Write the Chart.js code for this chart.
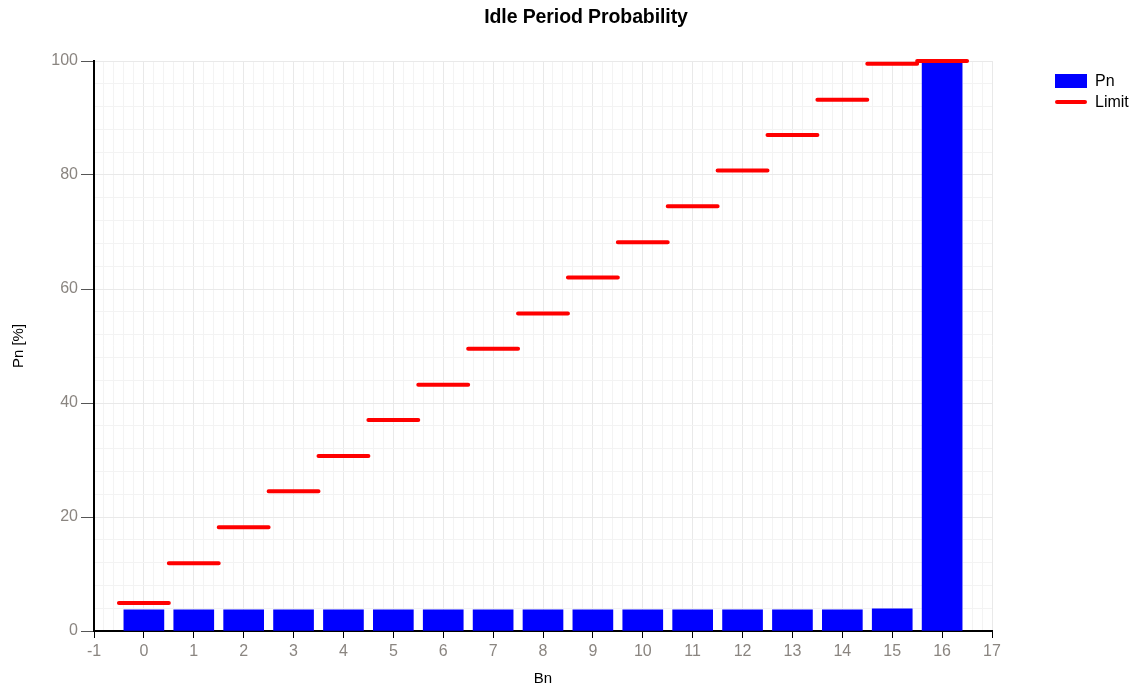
<!DOCTYPE html>
<html>
<head>
<meta charset="utf-8">
<title>Idle Period Probability</title>
<script src="https://cdn.jsdelivr.net/npm/chart.js@4.4.1/dist/chart.umd.min.js"></script>
<style>
    body { margin: 0; background: #ffffff; }
    #wrap { position: relative; width: 1140px; height: 692px; overflow: hidden; }
    #idleChart { position: absolute; left: 0; top: 0; }
    #chartTitle {
        position: absolute; left: 0; top: 5px; width: 1172px;
        text-align: center; font: bold 19.5px "Liberation Sans", Arial, sans-serif;
        color: #000; letter-spacing: -0.1px;
    }
    .legend-item { position: absolute; left: 1055px; font: 16px "Liberation Sans", Arial, sans-serif; color: #000; }
    .legend-item span.sw { position: absolute; left: 0; width: 32px; }
    .legend-item span.txt { position: absolute; left: 40px; white-space: nowrap; }
</style>
</head>
<body>
<div id="wrap">
    <canvas id="idleChart" width="1140" height="692"></canvas>
    <div id="chartTitle">Idle Period Probability</div>
    <div class="legend-item" style="top:74px;">
        <span class="sw" style="top:0;height:14px;background:#0000ff;"></span>
        <span class="txt" style="top:-2px;">Pn</span>
    </div>
    <div class="legend-item" style="top:100px;">
        <span class="sw" style="top:0;height:4px;background:#ff0000;border-radius:2px;"></span>
        <span class="txt" style="top:-7px;">Limit</span>
    </div>
</div>
<script>
// Bin numbers, measured probability and limit per bin
const bins = [0, 1, 2, 3, 4, 5, 6, 7, 8, 9, 10, 11, 12, 13, 14, 15, 16];
const pnValues = [3.7, 3.7, 3.7, 3.7, 3.7, 3.7, 3.7, 3.7, 3.7, 3.7, 3.7, 3.7, 3.7, 3.7, 3.7, 3.9, 100];
const limitValues = [4.9, 11.9, 18.2, 24.5, 30.7, 37.0, 43.2, 49.5, 55.7, 62.0, 68.2, 74.5, 80.8, 87.0, 93.2, 99.5, 100];

const xMin = -1, xMax = 17;
const yMin = 0, yMax = 100;

// bars as x/y points
const barPoints = bins.map((b, i) => ({ x: b, y: pnValues[i] }));

// each limit is a short flat segment across its bin
const limitPoints = [];
bins.forEach((b, i) => {
    limitPoints.push({ x: b - 0.5, y: limitValues[i] });
    limitPoints.push({ x: b + 0.5, y: limitValues[i] });
    limitPoints.push({ x: b + 0.5, y: null });
});

function isWhole(v) {
    return Math.abs(v - Math.round(v)) < 1e-6;
}

Chart.defaults.font.family = '"Liberation Sans", Arial, sans-serif';
Chart.defaults.font.size = 16;

const ctx = document.getElementById('idleChart').getContext('2d');

new Chart(ctx, {
    type: 'bar',
    data: {
        datasets: [
            {
                label: 'Limit',
                type: 'line',
                data: limitPoints,
                borderColor: '#ff0000',
                borderWidth: 4,
                borderCapStyle: 'round',
                pointRadius: 0,
                spanGaps: false,
                fill: false,
                clip: false,
                order: 0
            },
            {
                label: 'Pn',
                data: barPoints,
                backgroundColor: '#0000ff',
                borderWidth: 0,
                barThickness: 40,
                order: 1
            }
        ]
    },
    options: {
        responsive: false,
        animation: false,
        layout: {
            padding: { top: 61, right: 148, left: 0, bottom: 0 }
        },
        plugins: {
            legend: { display: false },
            title: { display: false },
            tooltip: { enabled: false }
        },
        scales: {
            x: {
                type: 'linear',
                min: xMin,
                max: xMax,
                offset: false,
                afterFit: function(scale) { scale.height = 61; },
                afterBuildTicks: function(scale) {
                    const t = [];
                    for (let k = 0; k <= (xMax - xMin) * 5; k++) t.push({ value: xMin + k / 5 });
                    scale.ticks = t;
                },
                border: { color: '#000000', width: 2 },
                grid: {
                    offset: false,
                    color: function(c) { return c.tick && isWhole(c.tick.value) ? '#e9e9e9' : '#f3f3f3'; },
                    tickColor: function(c) { return c.tick && isWhole(c.tick.value) ? '#000000' : 'rgba(0,0,0,0)'; },
                    tickLength: 7,
                    borderDash: [4, 3]
                },
                ticks: {
                    autoSkip: false,
                    maxRotation: 0,
                    color: '#8a8580',
                    padding: 4,
                    callback: function(value) { return isWhole(value) ? String(Math.round(value)) : ''; }
                },
                title: {
                    display: true,
                    text: 'Bn',
                    color: '#000000',
                    font: { size: 15 },
                    padding: { top: 0, bottom: 4 }
                }
            },
            y: {
                min: yMin,
                max: yMax,
                afterFit: function(scale) { scale.width = 94; },
                afterBuildTicks: function(scale) {
                    const t = [];
                    for (let v = yMin; v <= yMax; v += 4) t.push({ value: v });
                    scale.ticks = t;
                },
                border: { color: '#000000', width: 2 },
                grid: {
                    color: function(c) { return c.tick && c.tick.value % 20 === 0 ? '#e9e9e9' : '#f3f3f3'; },
                    tickColor: function(c) { return c.tick && c.tick.value % 20 === 0 ? '#555555' : 'rgba(0,0,0,0)'; },
                    tickLength: 13,
                    borderDash: [4, 3]
                },
                ticks: {
                    autoSkip: false,
                    color: '#8a8580',
                    padding: 3,
                    callback: function(value) { return value % 20 === 0 ? String(value) : ''; }
                },
                title: {
                    display: true,
                    text: 'Pn [%]',
                    color: '#000000',
                    font: { size: 15 },
                    padding: { top: 10, bottom: 0 }
                }
            }
        }
    }
});
</script>
</body>
</html>
